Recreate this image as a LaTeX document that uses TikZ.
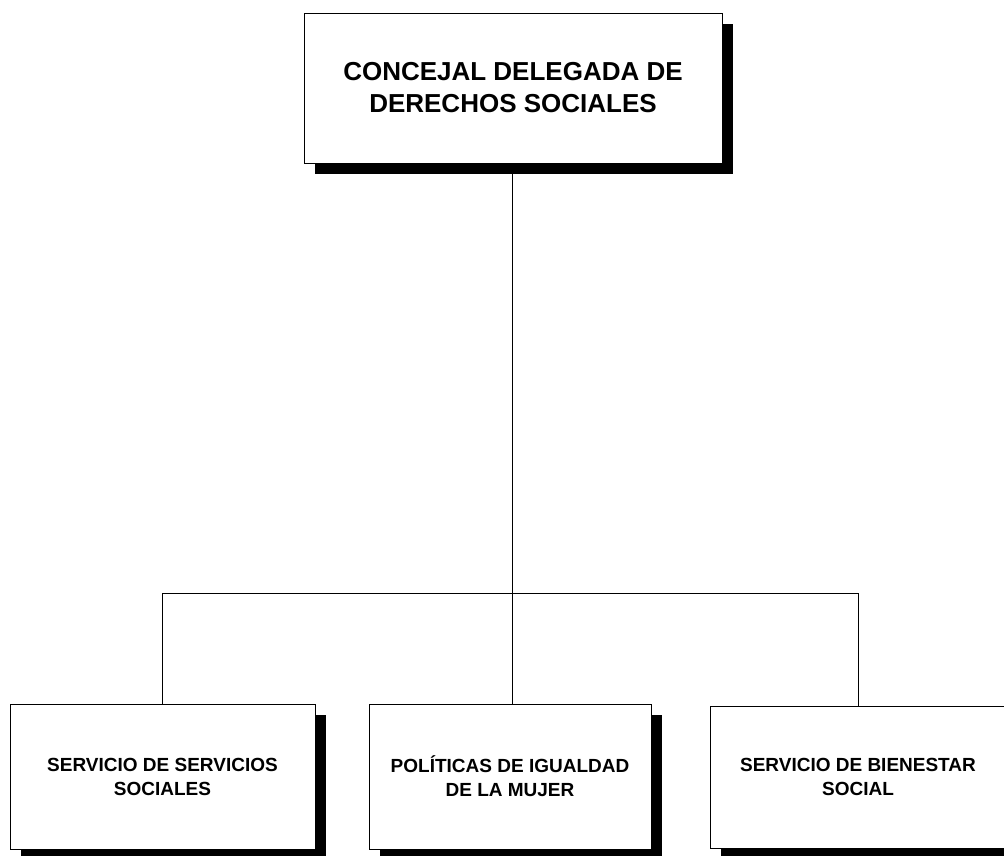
\documentclass[tikz,border=0pt]{standalone}
\usepackage{fontspec}
\setmainfont{Liberation Sans}
\usetikzlibrary{shadows}
\begin{document}
\begin{tikzpicture}[x=1pt,y=-1pt,
  box/.style={draw=black, line width=0.9pt, fill=white, inner sep=0pt, align=center,
    general shadow={fill=black, shadow xshift=11pt, shadow yshift=-11pt}},
  bigtxt/.style={font=\fontsize{26}{32}\selectfont\bfseries},
  smalltxt/.style={font=\fontsize{19}{24}\selectfont\bfseries},
  conn/.style={draw=black, line width=0.9pt}]
\useasboundingbox (0,0) rectangle (1004,855);
\clip (0,0) rectangle (1004,855);
\node[box, bigtxt, minimum width=418pt, minimum height=150pt] (top) at (513,88)
  {CONCEJAL DELEGADA DE\\DERECHOS SOCIALES};
\node[box, smalltxt, minimum width=305pt, minimum height=145pt] (b1) at (162.5,776.5)
  {SERVICIO DE SERVICIOS\\SOCIALES};
\node[box, smalltxt, minimum width=282pt, minimum height=145pt] (b2) at (510,776.5)
  {POLÍTICAS DE IGUALDAD\\DE LA MUJER};
\node[box, smalltxt, minimum width=296pt, minimum height=142pt] (b3) at (858,777)
  {SERVICIO DE BIENESTAR\\SOCIAL};
\coordinate (j) at (512,593);
\draw[conn] (top.south -| j) -- (b2.north -| j);
\draw[conn] (b1.north) |- (b3.north |- j) -- (b3.north);
\end{tikzpicture}
\end{document}
